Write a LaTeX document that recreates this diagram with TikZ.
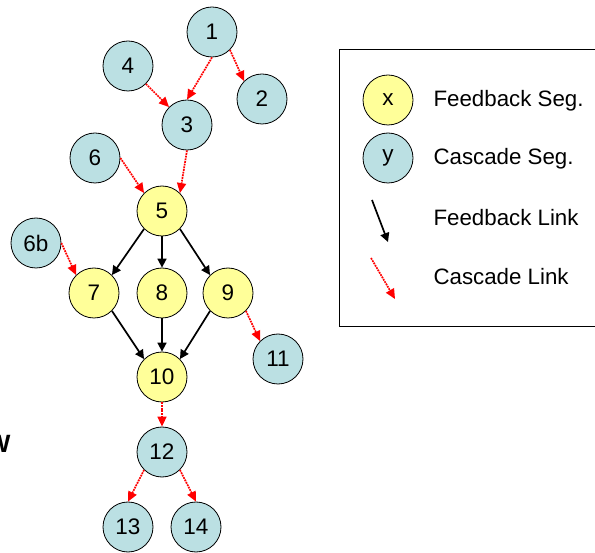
\documentclass[tikz,border=0pt]{standalone}
\usepackage{fontspec}
\setmainfont{Liberation Sans}
\usetikzlibrary{arrows.meta}

\definecolor{fbyellow}{RGB}{255,255,153}
\definecolor{csblue}{RGB}{187,224,227}

\begin{document}
\begin{tikzpicture}[
  x=1pt, y=-1pt,
  seg/.style={circle, draw=black, line width=0.8pt, minimum size=50pt,
    inner sep=0pt, font=\fontsize{22.5}{22.5}\selectfont},
  fb/.style={seg, fill=fbyellow},
  cs/.style={seg, fill=csblue},
  fblink/.style={line width=1.7pt, -{Triangle[length=9pt,width=9pt]}},
  cslink/.style={red, line width=1.7pt, dash pattern=on 1.8pt off 0.9pt,
    -{Triangle[length=10pt,width=9pt]}},
  legtext/.style={anchor=west, font=\fontsize{22.3}{22.3}\selectfont}
]
  \useasboundingbox (0,0) rectangle (595,553);

  \node[cs] (S1) at (212,32) {1};
  \node[cs] (S4) at (128,66) {4};
  \node[cs] (S2) at (262,99) {2};
  \node[cs] (S3) at (187,125) {3};
  \node[cs] (S6) at (95,158) {6};
  \node[fb] (S5) at (162,211) {5};
  \node[cs] (S6b) at (36,243) {6b};
  \node[fb] (S7) at (94,293) {7};
  \node[fb] (S8) at (162,293) {8};
  \node[fb] (S9) at (228,293) {9};
  \node[cs] (S11) at (278,359) {11};
  \node[fb] (S10) at (162,377) {10};
  \node[cs] (S12) at (162,452) {12};
  \node[cs] (S13) at (128,527) {13};
  \node[cs] (S14) at (196,527) {14};

  \node[anchor=east, font=\fontsize{25}{25}\bfseries] (W) at (14,444) {W};

  \path[cslink]
    (S1.south) edge (S3.north)
    (S1.south east) edge (S2.north west)
    (S4.south east) edge (S3.north west)
    (S3.south) edge (S5.north east)
    (S6.east) edge (S5.north west)
    (S6b.east) edge (S7.north west)
    (S9.south east) edge (S11.north west)
    (S10.south) edge (S12.north)
    (S12.south west) edge (S13.north)
    (S12.south east) edge (S14.north);

  \path[fblink]
    (S5.south west) edge (S7.north east)
    (S5.south) edge (S8.north)
    (S5.south east) edge (S9.north west)
    (S7.south east) edge (S10.north west)
    (S8.south) edge (S10.north)
    (S9.south west) edge (S10.north east);

  % legend
  \draw[line width=0.8pt] (339,49) rectangle (605,326);
  \node[fb] (Lx) at (388,100) {x};
  \node[cs] (Ly) at (388,158) {y};
  \coordinate (Lfb1) at (372,200);
  \coordinate (Lfb2) at (388,242);
  \coordinate (Lcs1) at (371,258);
  \coordinate (Lcs2) at (395,299);
  \draw[fblink] (Lfb1) -- (Lfb2);
  \draw[cslink] (Lcs1) -- (Lcs2);
  \node[legtext] (Tx) at (430,101) {Feedback Seg.};
  \node[legtext] (Ty) at (430,159) {Cascade Seg.};
  \node[legtext] (Tfb) at (430,218) {Feedback Link};
  \node[legtext] (Tcs) at (430,277) {Cascade Link};
\end{tikzpicture}
\end{document}
